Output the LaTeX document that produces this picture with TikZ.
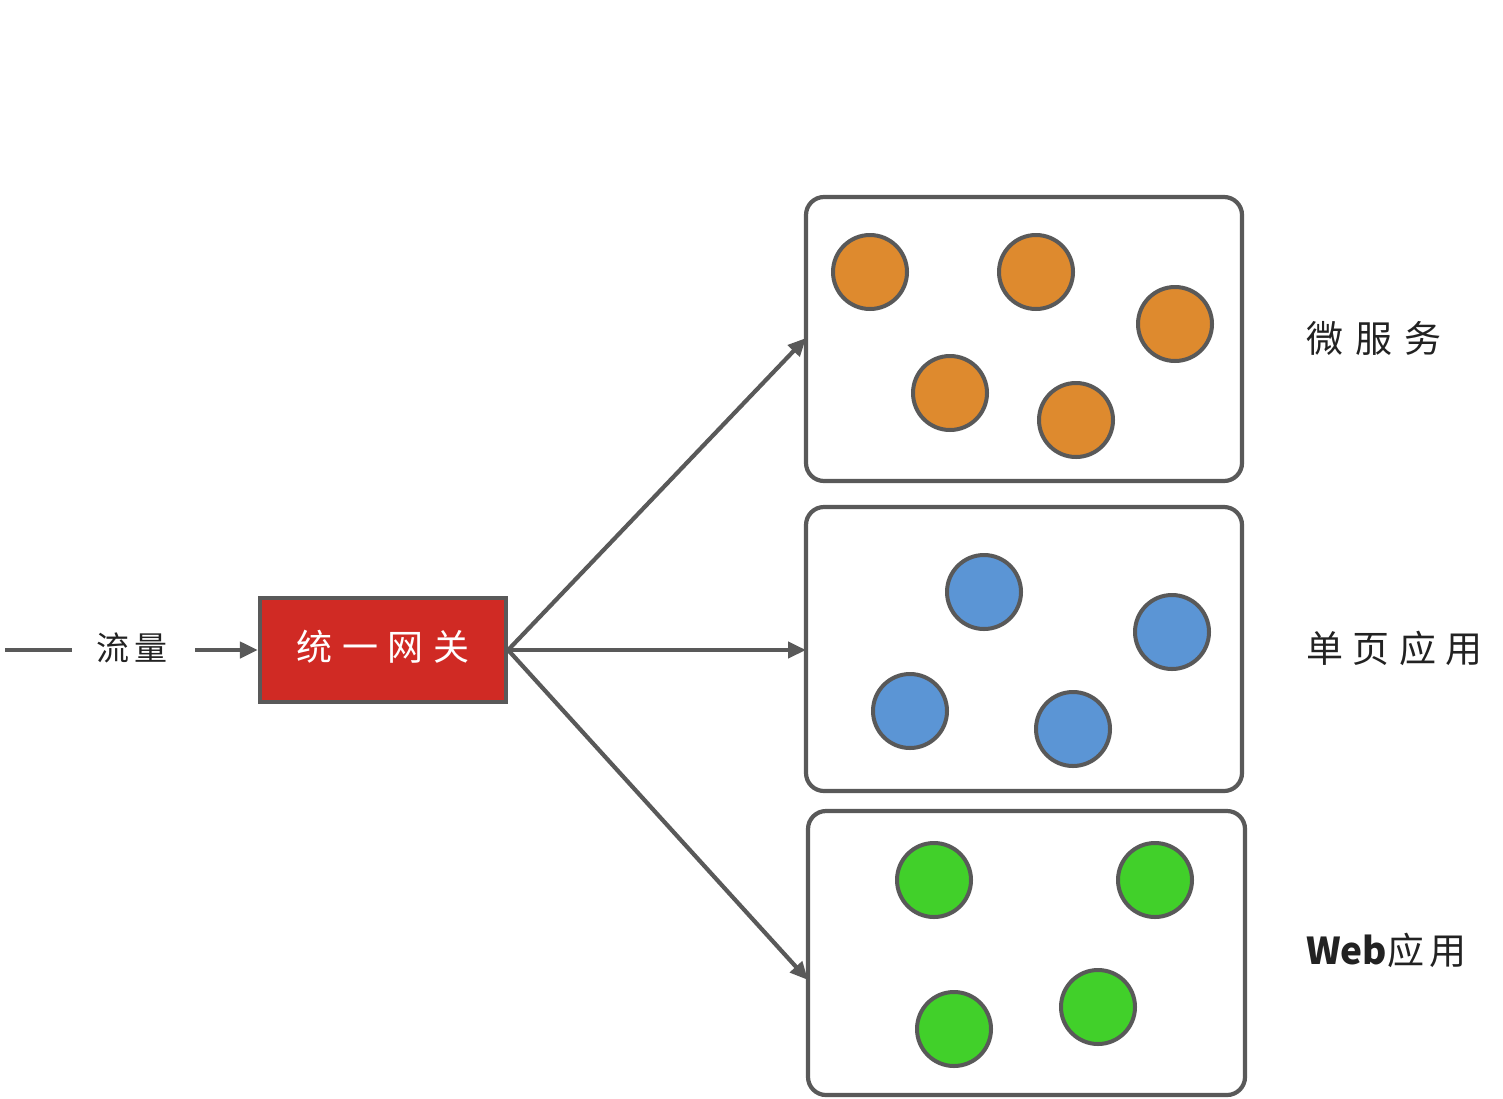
\documentclass[tikz,border=0pt]{standalone}
\usepackage{fontspec}
\newfontfamily\cjk{Noto Sans CJK SC}
\usetikzlibrary{arrows.meta}
\definecolor{lc}{HTML}{595959}
\definecolor{gwred}{HTML}{D02A24}
\definecolor{orng}{HTML}{DE8A2E}
\definecolor{blu}{HTML}{5B95D5}
\definecolor{grn}{HTML}{41D02A}
\definecolor{txt}{HTML}{222222}
\newcommand\cgap{\hspace{5pt}}
\newcommand\wgap{\hspace{9.5pt}}
\newcommand\xgap{\hspace{12pt}}
\tikzset{
  conn/.style={draw=lc, line width=4.2pt, -{Triangle[length=18pt,width=16pt]}},
  plain/.style={draw=lc, line width=4.2pt},
  grp/.style={draw=lc, line width=4.2pt, rounded corners=18pt, fill=white},
  dot/.style={circle, draw=lc, line width=4pt, minimum size=74pt, inner sep=0pt},
  lbl/.style={font=\cjk\fontsize{37pt}{40pt}\selectfont, text=txt, anchor=west, inner sep=0pt},
}
\begin{document}
\begin{tikzpicture}[x=1pt,y=-1pt]
\useasboundingbox (0,0) rectangle (1503,1098);
% groups
\draw[grp] (806,197) rectangle (1242,481);
\draw[grp] (806,507) rectangle (1242,791);
\draw[grp] (808,811) rectangle (1245,1095);
\coordinate (g1) at (806,338);
\coordinate (g2) at (806,650);
\coordinate (g3) at (808,980);
% gateway
\node[draw=lc, line width=4.2pt, fill=gwred, minimum width=246pt, minimum height=104pt, inner sep=0pt,
  text=white] (gw) at (383,650) {};
\node[font=\cjk\fontsize{36pt}{40pt}\selectfont, text=white, inner sep=0pt] (gwt) at (383,647) {统\wgap 一\wgap 网\wgap 关};
% traffic
\coordinate (s0) at (5,650);
\coordinate (s1) at (72,650);
\node[font=\cjk\fontsize{33pt}{38pt}\selectfont, text=txt, inner sep=0pt] (flow) at (132,648) {流\cgap 量};
\coordinate (s2) at (195,650);
\draw[plain] (s0) -- (s1);
\draw[conn] (s2) -- (gw.west);
% connectors
\draw[conn] (gw.east) -- (g1);
\draw[conn] (gw.east) -- (g2);
\draw[conn] (gw.east) -- (g3);
% orange
\node[dot, fill=orng] (o1) at (870,272) {};
\node[dot, fill=orng] (o2) at (1036,272) {};
\node[dot, fill=orng] (o3) at (1175,324) {};
\node[dot, fill=orng] (o4) at (950,393) {};
\node[dot, fill=orng] (o5) at (1076,420) {};
% blue
\node[dot, fill=blu] (b1) at (984,592) {};
\node[dot, fill=blu] (b2) at (1172,632) {};
\node[dot, fill=blu] (b3) at (910,711) {};
\node[dot, fill=blu] (b4) at (1073,729) {};
% green
\node[dot, fill=grn] (c1) at (934,880) {};
\node[dot, fill=grn] (c2) at (1155,880) {};
\node[dot, fill=grn] (c3) at (954,1029) {};
\node[dot, fill=grn] (c4) at (1098,1007) {};
% labels
\node[lbl] (l1) at (1306,338) {微\xgap 服\xgap 务};
\node[lbl] (l2) at (1306,648) {单\wgap 页\wgap 应\wgap 用};
\node[lbl] (l3) at (1306,950) {\textbf{Web}应\cgap 用};
\end{tikzpicture}
\end{document}
